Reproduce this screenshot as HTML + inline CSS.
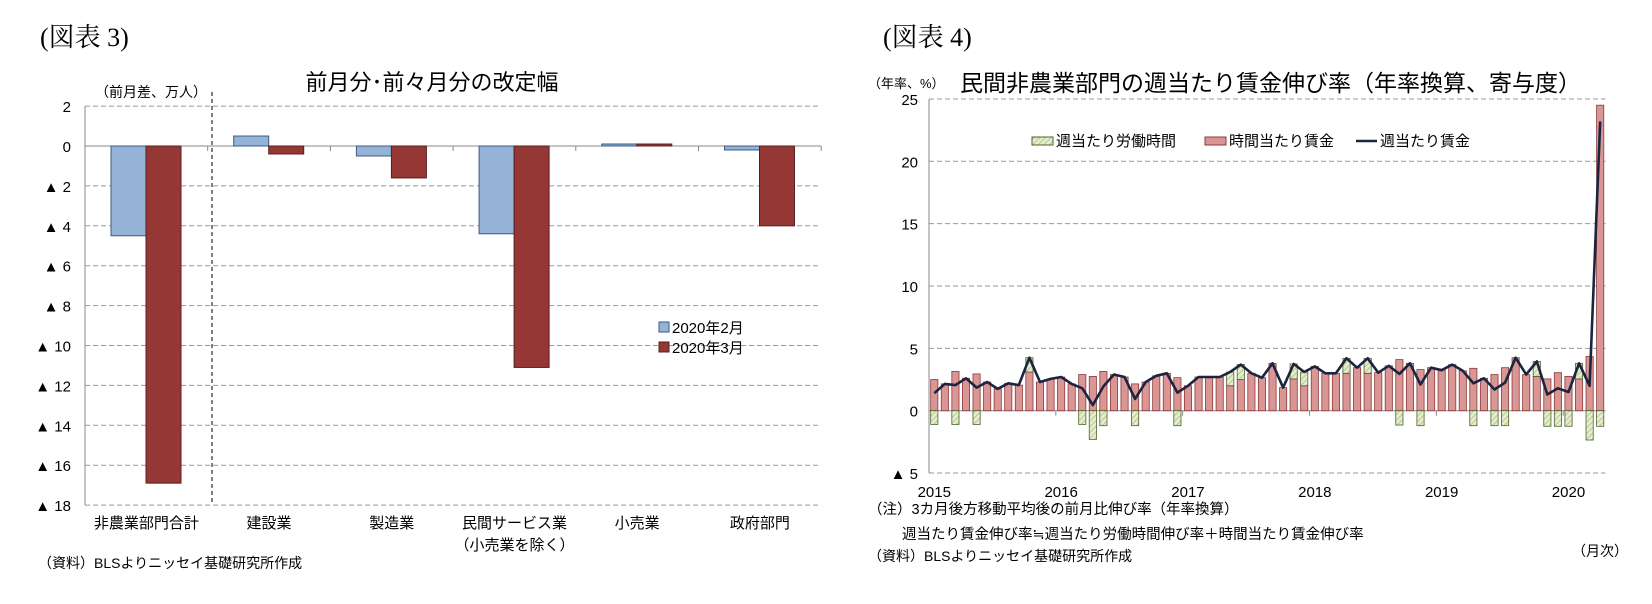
<!DOCTYPE html>
<html><head><meta charset="utf-8">
<style>
body{margin:0;background:#fff;}
svg{display:block;font-family:"Liberation Sans","Noto Sans CJK JP",sans-serif;}
</style></head>
<body>
<svg id="root" width="1652" height="604" viewBox="0 0 1652 604">
<defs>
<pattern id="hatch" patternUnits="userSpaceOnUse" width="4" height="4" patternTransform="rotate(45)">
<rect width="4" height="4" fill="#e4edcf"/><line x1="0" y1="0" x2="0" y2="4" stroke="#a9c27a" stroke-width="1.6"/>
</pattern>
</defs>
<text x="40" y="46" font-family="Liberation Serif,Noto Serif CJK SC,serif" font-size="26">(図表 3)</text>
<text x="883" y="46" font-family="Liberation Serif,Noto Serif CJK SC,serif" font-size="26">(図表 4)</text>
<g id="left"></g>
<g id="right"></g>
</svg>
<script>
// ---- Left chart data ----
const catsL = ["非農業部門合計","建設業","製造業","民間サービス業","小売業","政府部門"];
const feb2020 = [-4.5, 0.5, -0.5, -4.4, 0.1, -0.2];
const mar2020 = [-16.9, -0.4, -1.6, -11.1, 0.1, -4.0];
const ticksL = [2,0,-2,-4,-6,-8,-10,-12,-14,-16,-18];

// ---- Right chart data (Jan 2015 - Apr 2020) ----
const wageHourly = [2.5,2.15,3.15,2.6,2.95,2.3,1.75,2.2,2.05,3.1,2.3,2.55,2.7,2.15,2.9,2.75,3.15,2.9,2.7,2.15,2.3,2.8,3.0,2.65,2.0,2.7,
2.7,2.7,2.0,2.5,3.0,2.65,3.8,1.85,2.55,2.0,3.55,3.0,3.0,3.0,3.45,3.0,3.05,3.6,4.1,3.8,3.3,3.45,3.25,3.7,3.2,3.4,2.6,2.9,3.45,4.25,2.9,2.75,2.55,3.05,2.75,2.55,4.35,24.5];
const hoursWorked = [-1.1,0,-1.1,0,-1.1,0,0,0,0,1.15,0,0,0,0,-1.1,-2.3,-1.2,0,0,-1.2,0,0,0,-1.2,0,0,
0,0,1.1,1.2,0,0,0,0,1.2,1.1,0,0,0,1.2,0,1.2,0,0,-1.15,0,-1.2,0,0,0,0,-1.2,0,-1.2,-1.2,0,0,1.2,-1.25,-1.25,-1.25,1.25,-2.35,-1.25];
const weeklyWage = [1.4,2.15,2.05,2.6,1.85,2.3,1.75,2.2,2.05,4.25,2.3,2.55,2.7,2.15,1.8,0.45,1.95,2.9,2.7,0.95,2.3,2.8,3.0,1.45,2.0,2.7,
2.7,2.7,3.1,3.7,3.0,2.65,3.8,1.85,3.75,3.1,3.55,3.0,3.0,4.2,3.45,4.2,3.05,3.6,2.95,3.8,2.1,3.45,3.25,3.7,3.2,2.2,2.6,1.7,2.25,4.25,2.9,3.95,1.3,1.8,1.5,3.8,2.0,23.2];
const ticksR = [25,20,15,10,5,0,-5];
const yearLabels = ["2015","2016","2017","2018","2019","2020"];

const NS="http://www.w3.org/2000/svg";
function mk(parent,tag,attrs,text){const e=document.createElementNS(NS,tag);for(const k in attrs)e.setAttribute(k,attrs[k]);if(text!==undefined)e.textContent=text;parent.appendChild(e);return e;}
function tickLabel(v){return v<0?"▲ "+(-v):String(v);}

// ===== Left chart =====
(function(){
const g=document.getElementById('left');
const x0=85, catW=122.7, yZero=146, pxU=19.95, xEnd=x0+catW*6;
const y=v=>yZero-v*pxU;
let t=mk(g,'text',{x:432,y:90,'font-size':22,'text-anchor':'middle'},"前月分･前々月分の改定幅");


t=mk(g,'text',{x:95,y:97,'font-size':14},"（前月差、万人）");


ticksL.forEach(v=>{
  const l=mk(g,'line',{x1:x0,x2:xEnd,y1:y(v),y2:y(v),stroke:v===0?'#888':'#999','stroke-width':1,'stroke-dasharray':v===0?'':'5,3'});
  
  
  const tl=mk(g,'text',{x:71,y:y(v)+6,'font-size':15,'text-anchor':'end'},tickLabel(v));
  
  
});
let ax=mk(g,'line',{x1:x0,x2:x0,y1:y(2),y2:y(-18),stroke:'#888'});


for(let i=1;i<=6;i++){const tk=mk(g,'line',{x1:x0+catW*i,x2:x0+catW*i,y1:yZero,y2:yZero+5,stroke:'#888'});

}
let dv=mk(g,'line',{x1:212,x2:212,y1:92,y2:505,stroke:'#000','stroke-dasharray':'4,3'});


catsL.forEach((c,i)=>{
  const cx=x0+catW*i;
  const b1=mk(g,'rect',{x:cx+26,y:Math.min(y(feb2020[i]),yZero),width:35,height:Math.abs(feb2020[i])*pxU,fill:'#95b3d7',stroke:'#3b5a85','stroke-width':1});
  
  
  const b2=mk(g,'rect',{x:cx+61,y:Math.min(y(mar2020[i]),yZero),width:35,height:Math.abs(mar2020[i])*pxU,fill:'#953735',stroke:'#5a1f1e','stroke-width':1});
  
  
  const lb=mk(g,'text',{x:cx+catW/2,y:528,'font-size':15,'text-anchor':'middle'},c);
  
  
});
t=mk(g,'text',{x:x0+catW*3.5,y:550,'font-size':15,'text-anchor':'middle'},"（小売業を除く）");


const lg=mk(g,'g',{});


let s=mk(lg,'rect',{x:659,y:322,width:10,height:10,fill:'#95b3d7',stroke:'#3b5a85'});


t=mk(lg,'text',{x:672,y:333,'font-size':15},"2020年2月");


s=mk(lg,'rect',{x:659,y:342,width:10,height:10,fill:'#953735',stroke:'#5a1f1e'});


t=mk(lg,'text',{x:672,y:353,'font-size':15},"2020年3月");


t=mk(g,'text',{x:38,y:568,'font-size':14},"（資料）BLSよりニッセイ基礎研究所作成");


})();

// ===== Right chart =====
(function(){
const g=document.getElementById('right');
const x0=929, mW=10.57, xEnd=x0+mW*64, yZero=410.7, pxU=12.47;
const y=v=>yZero-v*pxU;
const xc=i=>x0+mW*(i+0.5);
let t=mk(g,'text',{x:960,y:91,'font-size':23},"民間非農業部門の週当たり賃金伸び率（年率換算、寄与度）");


t=mk(g,'text',{x:868,y:88,'font-size':13},"（年率、%）");


ticksR.forEach(v=>{
  const l=mk(g,'line',{x1:x0,x2:xEnd,y1:y(v),y2:y(v),stroke:v===0?'#888':'#999','stroke-dasharray':v===0?'':'5,3'});
  
  
  const tl=mk(g,'text',{x:918,y:y(v)+6,'font-size':15,'text-anchor':'end'},tickLabel(v));
  
  
});
let ax=mk(g,'line',{x1:x0,x2:x0,y1:y(25),y2:y(-5),stroke:'#888'});


yearLabels.forEach((lab,k)=>{
  const tk=mk(g,'line',{x1:x0+mW*12*k,x2:x0+mW*12*k,y1:yZero,y2:yZero+5,stroke:'#888'});
  
  
  const tl=mk(g,'text',{x:xc(12*k),y:497,'font-size':15,'text-anchor':'middle'},lab);
  
  
});
wageHourly.forEach((v,i)=>{
  const h=hoursWorked[i];
  const r=mk(g,'rect',{x:xc(i)-3.6,y:Math.min(y(v),yZero),width:7.2,height:Math.abs(v)*pxU,fill:'#d99694',stroke:'#8c3a38','stroke-width':0.8});
  
  
  if(h!==0){
    const base=h>0?v:0;
    const hr=mk(g,'rect',{x:xc(i)-3.6,y:h>0?y(base+h):yZero,width:7.2,height:Math.abs(h)*pxU,fill:'url(#hatch)',stroke:'#4f6228','stroke-width':0.8});
    
    
  }
});
const pts=weeklyWage.map((v,i)=>xc(i).toFixed(1)+','+y(v).toFixed(1)).join(' ');
const pl=mk(g,'polyline',{points:pts,fill:'none',stroke:'#1c2540','stroke-width':2.6,'stroke-linejoin':'round'});


const lg=mk(g,'g',{});


let s=mk(lg,'rect',{x:1032,y:137,width:21,height:8,fill:'url(#hatch)',stroke:'#4f6228'});


t=mk(lg,'text',{x:1056,y:146,'font-size':15},"週当たり労働時間");


s=mk(lg,'rect',{x:1205,y:137,width:21,height:8,fill:'#d99694',stroke:'#8c3a38'});


t=mk(lg,'text',{x:1229,y:146,'font-size':15},"時間当たり賃金");


s=mk(lg,'line',{x1:1356,x2:1377,y1:141,y2:141,stroke:'#1c2540','stroke-width':2.6});


t=mk(lg,'text',{x:1380,y:146,'font-size':15},"週当たり賃金");


t=mk(g,'text',{x:868,y:514,'font-size':14.5},"（注）3カ月後方移動平均後の前月比伸び率（年率換算）");


t=mk(g,'text',{x:902,y:539,'font-size':14.5},"週当たり賃金伸び率≒週当たり労働時間伸び率＋時間当たり賃金伸び率");


t=mk(g,'text',{x:868,y:561,'font-size':14},"（資料）BLSよりニッセイ基礎研究所作成");


t=mk(g,'text',{x:1628,y:556,'font-size':14,'text-anchor':'end'},"（月次）");


})();
</script>
</body></html>
